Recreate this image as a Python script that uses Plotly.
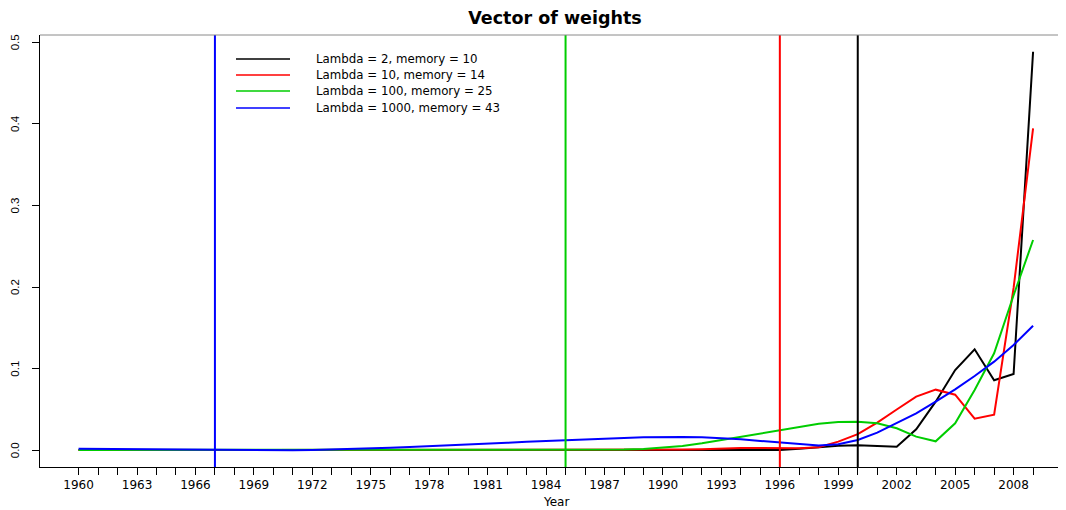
import plotly.graph_objects as go

years = list(range(1960, 2010))

w_l2 = [0.0002] * 31 + [0.0004] * 6 + [
    0.0020, 0.0040, 0.0056, 0.0061, 0.0049, 0.0044, 0.0257, 0.0596,
    0.0984, 0.1238, 0.0858, 0.0935, 0.4885]

w_l10 = [0.0002] * 29 + [
    0.0004, 0.0007, 0.0010, 0.0014, 0.0024, 0.0028, 0.0028, 0.0026,
    0.0024, 0.0037, 0.0106, 0.0198, 0.0338, 0.0500, 0.0657, 0.0743,
    0.0681, 0.0387, 0.0436, 0.1990, 0.3946]

w_l100 = [0.0004] * 27 + [
    0.0005, 0.0009, 0.0016, 0.0032, 0.0053, 0.0085, 0.0126, 0.0167,
    0.0208, 0.0249, 0.0289, 0.0326, 0.0347, 0.0349, 0.0330, 0.0270,
    0.0167, 0.0110, 0.0330, 0.0739, 0.1189, 0.1900, 0.2577]

w_l1000 = [
    0.0018, 0.0016, 0.0014, 0.0012, 0.0010, 0.0007, 0.0005, 0.0003,
    0.0001, 0.0000, 0.0000, 0.0001, 0.0004, 0.0009, 0.0016, 0.0024,
    0.0032, 0.0040, 0.0049, 0.0059, 0.0070, 0.0081, 0.0092, 0.0103,
    0.0114, 0.0122, 0.0135, 0.0142, 0.0151, 0.0159, 0.0163, 0.0163,
    0.0159, 0.0151, 0.0135, 0.0114, 0.0093, 0.0073, 0.0057, 0.0073,
    0.0126, 0.0216, 0.0330, 0.0453, 0.0596, 0.0747, 0.0910, 0.1086,
    0.1290, 0.1527]

series_names = ["Lambda = 2, memory = 10", "Lambda = 10, memory = 14",
                "Lambda = 100, memory = 25", "Lambda = 1000, memory = 43"]
series_values = [w_l2, w_l10, w_l100, w_l1000]
memory_start = [2000, 1996, 1985, 1967]
colors = ["#000000", "#FF0000", "#00CD00", "#0000FF"]

x_ticklabels = [str(y) if (y - 1960) % 3 == 0 else "" for y in years]
y_ticks = [0.0, 0.1, 0.2, 0.3, 0.4, 0.5]
y_ticklabels = ["0.0", "0.1", "0.2", "0.3", "0.4", "0.5"]

fig = go.Figure()
for name, vals, col in zip(series_names, series_values, colors):
    fig.add_trace(go.Scatter(x=years, y=vals, mode="lines", name=name,
                             line=dict(color=col, width=2), showlegend=False))

# the page body adds an 8px offset; figure coordinates below are page px - 8
OFF = 8
FIG_W, FIG_H = 1066 - OFF, 510 - OFF
L, T = 40 - OFF, 35 - OFF
W = FIG_W - L
H = (467 - OFF) - T

shapes = []
for xv, col in zip(memory_start, colors):
    shapes.append(dict(type="line", xref="x", yref="paper", x0=xv, x1=xv,
                       y0=0, y1=1, line=dict(color=col, width=2)))
# top frame line
shapes.append(dict(type="line", xref="paper", yref="paper", x0=0, x1=1,
                   y0=1, y1=1, line=dict(color="#8a8a8a", width=1)))

leg_y = [59, 75, 91, 108]
annotations = []
for name, col, py in zip(series_names, colors, leg_y):
    yp = (T + H - (py - OFF)) / H
    shapes.append(dict(type="line", xref="paper", yref="paper",
                       x0=(236 - OFF - L) / W, x1=(290 - OFF - L) / W,
                       y0=yp, y1=yp, line=dict(color=col, width=1.3)))
    annotations.append(dict(xref="paper", yref="paper",
                            x=(314 - OFF - L) / W, y=yp,
                            text=name, showarrow=False, xanchor="left",
                            yanchor="middle",
                            font=dict(family="DejaVu Sans", size=11.8,
                                      color="#000000")))

# rotated y tick labels placed like R's axis labels
for v, lab in zip(y_ticks, y_ticklabels):
    annotations.append(dict(xref="paper", yref="y", x=(15 - OFF - L) / W,
                            y=v, text=lab, showarrow=False, textangle=-90,
                            xanchor="center", yanchor="middle",
                            font=dict(family="Liberation Sans", size=11.5,
                                      color="#000000")))

# x-axis title
annotations.append(dict(xref="paper", yref="paper", x=(556 - OFF - L) / W,
                        y=-((502 - OFF) - (T + H)) / H, text="Year",
                        showarrow=False, xanchor="center", yanchor="middle",
                        font=dict(family="DejaVu Sans", size=12,
                                  color="#000000")))

fig.update_layout(
    width=FIG_W, height=FIG_H,
    margin=dict(l=L, r=0, t=T, b=FIG_H - T - H, pad=0, autoexpand=False),
    paper_bgcolor="white", plot_bgcolor="white",
    title=dict(text="<b>Vector of weights</b>", x=(555 - OFF) / FIG_W,
               xref="container", y=1 - (18 - OFF) / FIG_H, yref="container",
               yanchor="middle", xanchor="center",
               font=dict(family="DejaVu Sans", size=17.5, color="#000000")),
    shapes=shapes, annotations=annotations,
    xaxis=dict(range=[1958.02, 2010.69], tickmode="array", tickvals=years,
               ticktext=x_ticklabels, ticks="outside", ticklen=7,
               tickcolor="#000000", tickwidth=1, showgrid=False,
               zeroline=False, showline=True, linecolor="#000000",
               linewidth=1, tickangle=0, automargin=False,
               tickfont=dict(family="DejaVu Sans", size=12, color="#000000")),
    yaxis=dict(range=[-0.0205, 0.509], tickmode="array", tickvals=y_ticks,
               ticks="outside", ticklen=7, showticklabels=False,
               tickcolor="#000000", tickwidth=1, showgrid=False,
               zeroline=False, showline=True, linecolor="#000000",
               linewidth=1, automargin=False),
)

fig.write_html("out.html")
